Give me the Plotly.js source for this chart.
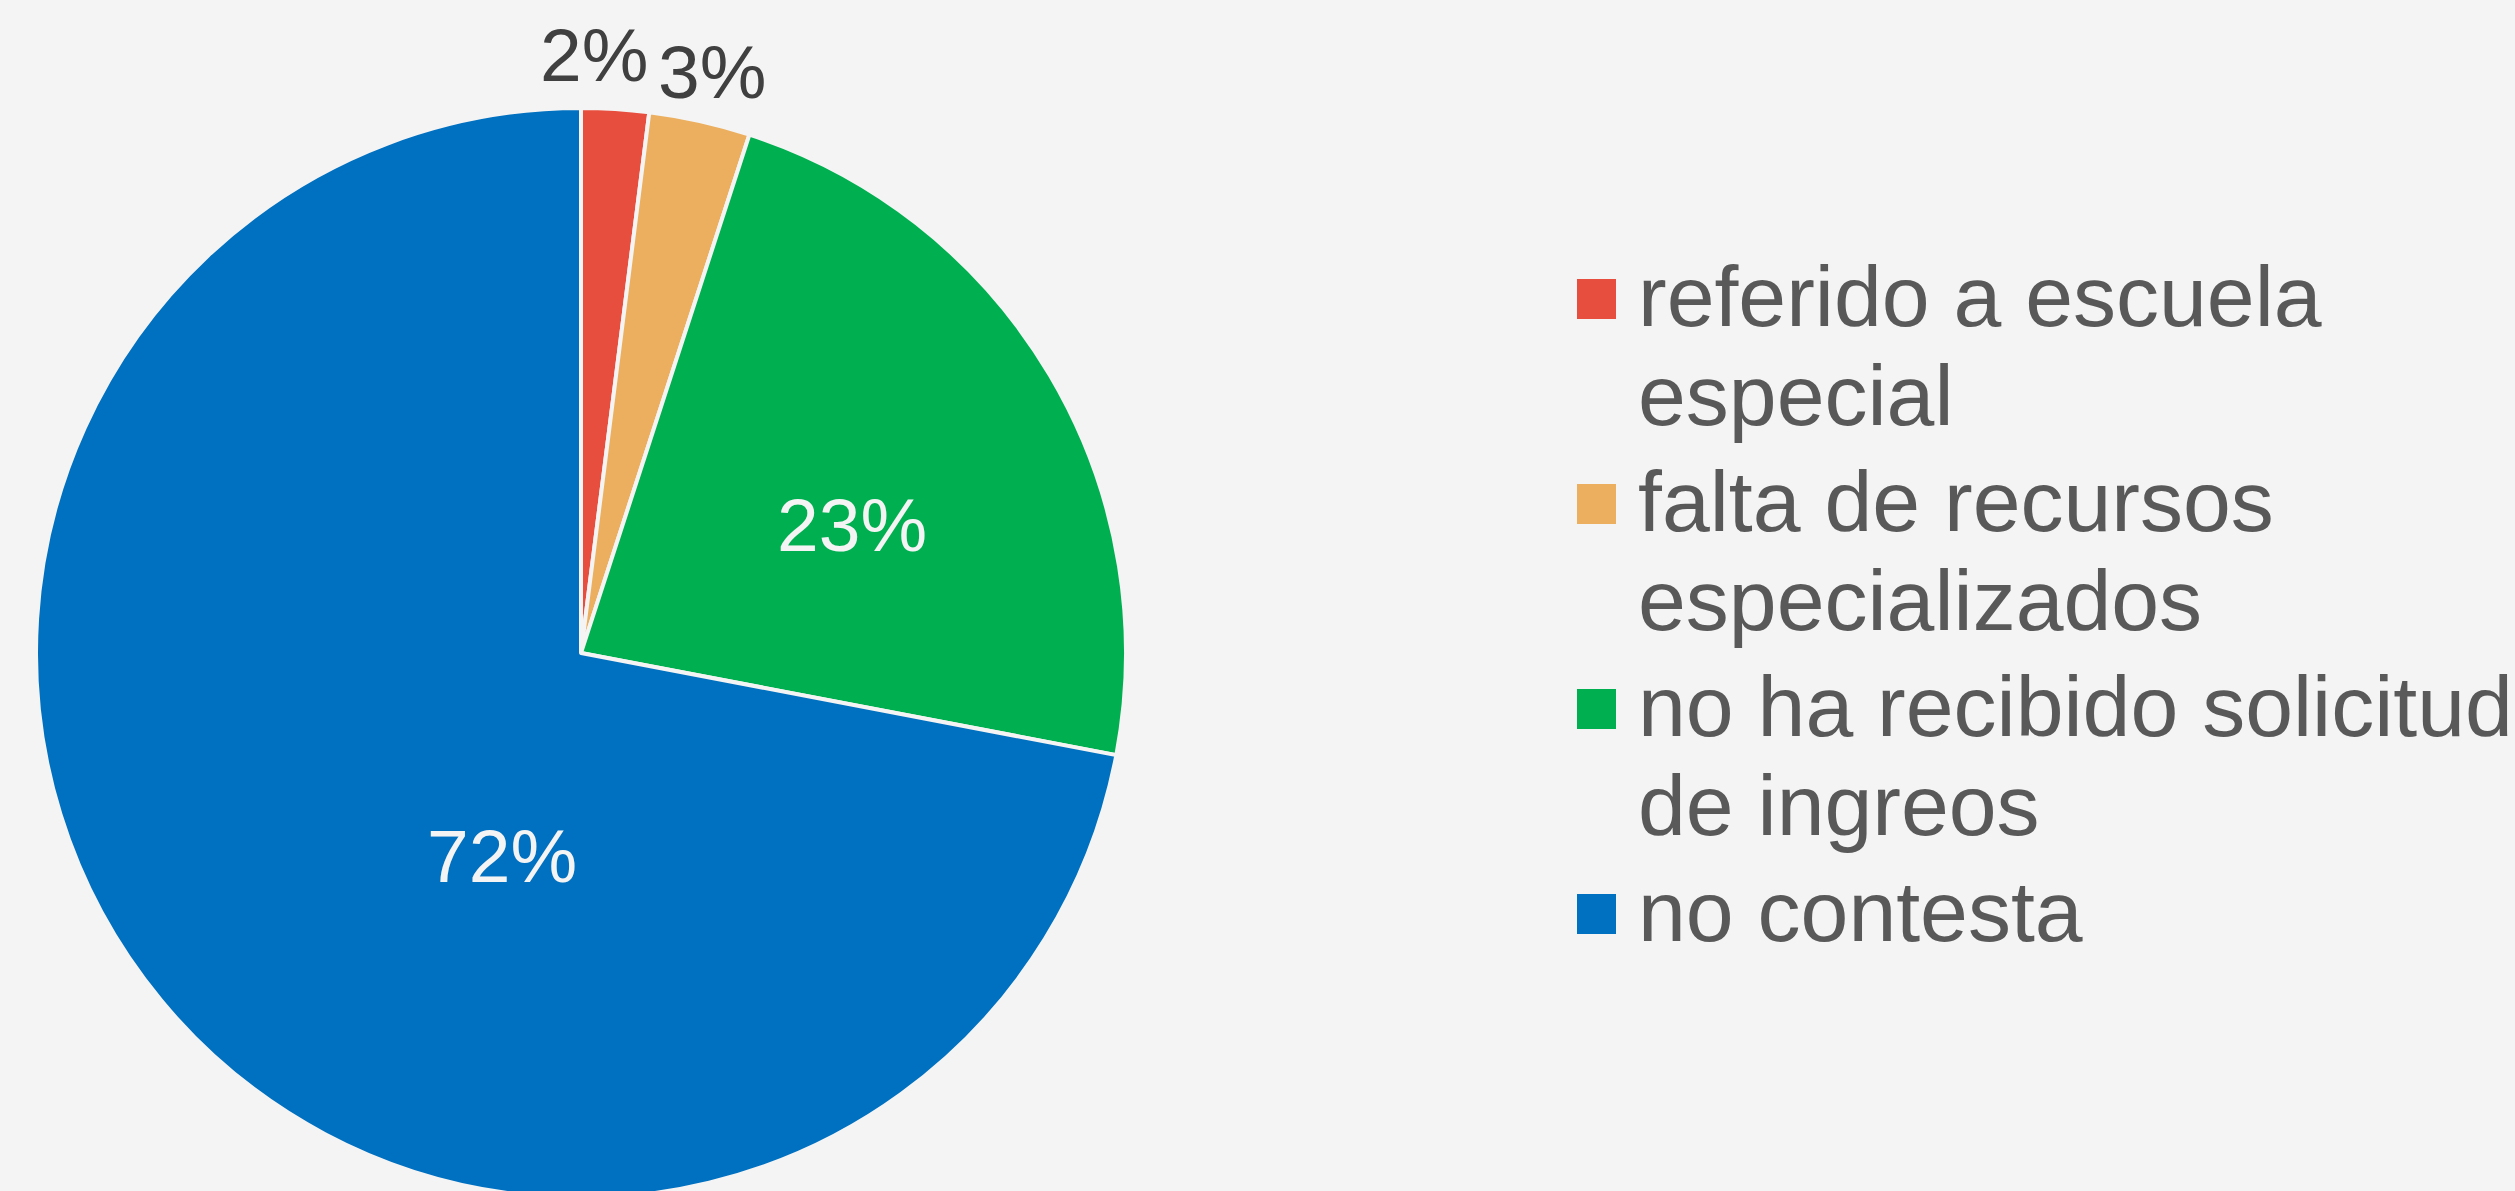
<!DOCTYPE html>
<html>
<head>
<meta charset="utf-8">
<script src="https://cdn.plot.ly/plotly-3.0.1.min.js"></script>
<style>
  html, body { margin: 0; padding: 0; background: #F4F4F4; overflow: hidden; }
  #wrap { width: 2515px; height: 1191px; overflow: hidden; position: relative; }
  #chart { width: 2515px; height: 1210px; }
</style>
</head>
<body>
<div id="wrap"><div id="chart"></div></div>
<script>
// ---- data ----
var categories = [
  'referido a escuela especial',
  'falta de recursos especializados',
  'no ha recibido solicitud de ingreos',
  'no contesta'
];
var legendLines = [
  ['referido a escuela', 'especial'],
  ['falta de recursos', 'especializados'],
  ['no ha recibido solicitud', 'de ingreos'],
  ['no contesta']
];
var values = [2, 3, 23, 72];
var colors = ['#E84E3D', '#EBAF5F', '#00B050', '#0070C0'];

// ---- layout helpers (pixel -> paper) ----
var W = 2515, H = 1210;
function px(x) { return x / W; }
function py(y) { return (H - y) / H; }

var FONT = 'Liberation Sans, Arial, sans-serif';
var legendFontSize = 86;
var labelFontSize = 75;
var lineStep = 99;   // between wrapped lines
var entryGap = 106;  // between entries
var firstBaseline = 326;

// pie geometry (pixels)
var CX = 581, CY = 653, R = 545;

var annotations = [];
var shapes = [];
var baseline = firstBaseline;
legendLines.forEach(function (lines, i) {
  shapes.push({
    type: 'rect', xref: 'paper', yref: 'paper',
    x0: px(1577), x1: px(1616),
    y0: py(baseline - 7), y1: py(baseline - 47),
    fillcolor: colors[i], line: { width: 0 }
  });
  lines.forEach(function (t, j) {
    if (j > 0) baseline += lineStep;
    annotations.push({
      xref: 'paper', yref: 'paper',
      x: px(1636), y: py(baseline - 0.3465 * legendFontSize),
      xanchor: 'left', yanchor: 'middle',
      text: t, showarrow: false,
      font: { family: FONT, size: legendFontSize, color: '#595959' }
    });
  });
  baseline += entryGap;
});

// data labels: text from the values, placement (angle clockwise from top in degrees,
// distance as a fraction of the radius) as in the original chart
var total = values.reduce(function (a, b) { return a + b; }, 0);
var labelPlacement = [[1.2, 1.097], [12.7, 1.092], [64.7, 0.55], [201.3, 0.40]];
var labelColors = ['#404040', '#404040', '#F4F4F4', '#F4F4F4'];
values.forEach(function (v, i) {
  var a = labelPlacement[i][0] * Math.PI / 180;
  var d = labelPlacement[i][1] * R;
  annotations.push({
    xref: 'paper', yref: 'paper',
    x: px(CX + d * Math.sin(a)), y: py(CY - d * Math.cos(a)),
    xanchor: 'center', yanchor: 'middle',
    text: Math.round(v / total * 100) + '%', showarrow: false,
    font: { family: FONT, size: labelFontSize, color: labelColors[i] }
  });
});

var trace = {
  type: 'pie',
  labels: categories,
  values: values,
  sort: false,
  direction: 'clockwise',
  rotation: 0,
  marker: { colors: colors, line: { color: '#F4F4F4', width: 4 } },
  textinfo: 'none',
  domain: { x: [px(CX - R), px(CX + R)], y: [py(CY + R), py(CY - R)] },
  showlegend: false,
  hoverinfo: 'none'
};

var layout = {
  width: W, height: H,
  margin: { l: 0, r: 0, t: 0, b: 0 },
  paper_bgcolor: '#F4F4F4',
  plot_bgcolor: '#F4F4F4',
  showlegend: false,
  annotations: annotations,
  shapes: shapes,
  font: { family: FONT }
};

Plotly.newPlot('chart', [trace], layout, { displayModeBar: false, staticPlot: true });
</script>
</body>
</html>
